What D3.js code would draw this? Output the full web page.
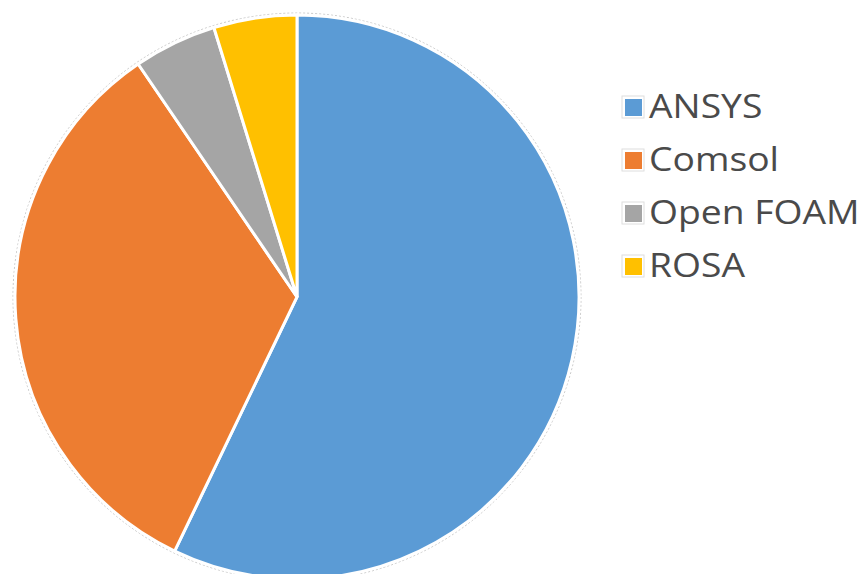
<!DOCTYPE html>
<html>
<head>
<meta charset="utf-8">
<script src="https://cdn.jsdelivr.net/npm/d3@7"></script>
<style>
  body { margin: 0; background: #fff; }
  .leg { font-family: "Open Sans", sans-serif; font-size: 33px; fill: #4a4a4a; }
</style>
</head>
<body>
<svg width="864" height="574"></svg>
<script>
// data (counts out of 21)
const categories = ["ANSYS", "Comsol", "Open FOAM", "ROSA"]
const counts = [12, 7, 1, 1]
const colors = ["#5b9bd5", "#ed7d31", "#a5a5a5", "#ffc000"]

const dims = { cx: 297, cy: 297, r: 282, legX: 625, legY: 96, legStep: 53 }

const svg = d3.select("svg")
const color = d3.scaleOrdinal().domain(categories).range(colors)

const pie = d3.pie().sort(null).value((d, i) => counts[i])
const arc = d3.arc().innerRadius(0).outerRadius(dims.r)

const g = svg.append("g").attr("transform", `translate(${dims.cx},${dims.cy})`)

// faint outline round the pie
g.append("circle")
  .attr("r", dims.r + 2)
  .attr("fill", "none")
  .attr("stroke", "#c8c8c8")
  .attr("stroke-width", 1)
  .attr("stroke-dasharray", "2,2")

g.selectAll("path").data(pie(categories)).enter().append("path")
  .attr("d", arc)
  .attr("fill", d => color(d.data))
  .attr("stroke", "#fff")
  .attr("stroke-width", 3)

// legend
const y = d3.scaleBand().domain(categories).range([dims.legY, dims.legY + dims.legStep * categories.length])
const leg = svg.append("g")
const item = leg.selectAll("g").data(categories).enter().append("g")
  .attr("transform", d => `translate(${dims.legX},${y(d)})`)
item.append("rect")
  .attr("x", -3).attr("y", 0).attr("width", 22).attr("height", 22)
  .attr("fill", "none").attr("stroke", "#dedede")
item.append("rect")
  .attr("x", 0).attr("y", 3).attr("width", 17).attr("height", 17)
  .attr("fill", d => color(d))
item.append("text")
  .attr("class", "leg")
  .attr("transform", "translate(24,22) scale(1.13,1)")
  .text(d => d)
</script>
</body>
</html>
